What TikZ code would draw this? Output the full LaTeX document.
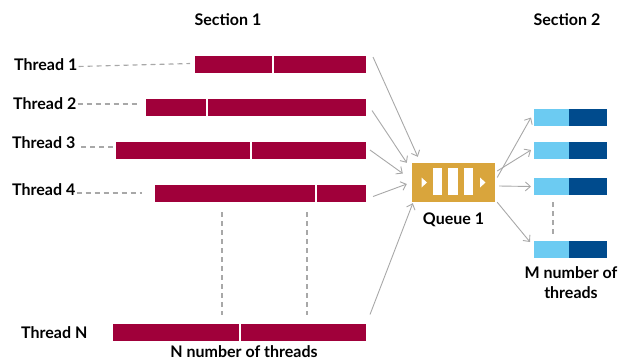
\documentclass[tikz,border=0pt]{standalone}
\usepackage{fontspec}
\setmainfont{Lato}
\usetikzlibrary{arrows.meta}
\definecolor{crimson}{HTML}{A0003A}
\definecolor{lblue}{HTML}{6CCBF2}
\definecolor{dblue}{HTML}{004B8D}
\definecolor{gold}{HTML}{D9A53C}
\definecolor{lgray}{HTML}{A8A8A8}
\tikzset{
  redbar/.style={fill=crimson, draw=none, inner sep=0pt, outer sep=0pt, minimum height=17pt},
  lbar/.style={fill=lblue, draw=none, inner sep=0pt, outer sep=0pt, minimum height=17pt, minimum width=35pt},
  dbar/.style={fill=dblue, draw=none, inner sep=0pt, outer sep=0pt, minimum height=17pt, minimum width=38pt},
  lbl/.style={font=\bfseries\fontsize{16}{18}\selectfont, text=black, inner sep=0pt},
  dashln/.style={draw=lgray, line width=1.1pt, dash pattern=on 5pt off 4pt},
  arr/.style={draw=lgray, line width=0.9pt, -{Straight Barb[length=5pt,width=9pt]}},
  whitebox/.style={fill=white, draw=none, inner sep=0pt, minimum width=9pt, minimum height=27pt},
}
\begin{document}
\begin{tikzpicture}[x=1pt,y=-1pt]
\useasboundingbox (0,0) rectangle (634,360);
% titles
\node[lbl] (s1) at (228,20) {Section 1};
\node[lbl] (s2) at (567,20) {Section 2};
% thread bars
\node[redbar, minimum width=77pt] (b1a) at (233.5,64.5) {};
\node[redbar, minimum width=92pt] (b1b) at (320,64.5) {};
\node[redbar, minimum width=60pt] (b2a) at (176,107.5) {};
\node[redbar, minimum width=158pt] (b2b) at (287,107.5) {};
\node[redbar, minimum width=134pt] (b3a) at (183,150) {};
\node[redbar, minimum width=114pt] (b3b) at (309,150) {};
\node[redbar, minimum width=160pt] (b4a) at (235,193.5) {};
\node[redbar, minimum width=49pt] (b4b) at (341.5,193.5) {};
\node[redbar, minimum width=126pt] (bNa) at (176,332) {};
\node[redbar, minimum width=125pt] (bNb) at (303.5,332) {};
% thread labels
\node[lbl, anchor=west] (t1) at (14,65) {Thread 1};
\node[lbl, anchor=west] (t2) at (13,104) {Thread 2};
\node[lbl, anchor=west] (t3) at (12,143) {Thread 3};
\node[lbl, anchor=west] (t4) at (12,190) {Thread 4};
\node[lbl, anchor=west] (tN) at (21,333) {Thread N};
\node[lbl] (nlab) at (244,352) {N number of threads};
% dashed leaders
\coordinate (d1) at (190,63.5);
\coordinate (d2) at (137,104);
\coordinate (d3a) at (81,147);
\coordinate (d4) at (142,193);
\draw[dashln] ([xshift=1pt,yshift=-1.5pt]t1.east) -- (d1);
\draw[dashln] ([xshift=1pt]t2.east |- d2) -- (d2);
\draw[dashln] (d3a) -- (b3a.west |- d3a);
\draw[dashln] ([xshift=1pt]t4.east |- d4) -- (d4);
% vertical dashes
\coordinate (v1a) at (222,212); \coordinate (v1b) at (222,315);
\coordinate (v2a) at (307,212); \coordinate (v2b) at (307,315);
\draw[dashln] (v1a) -- (v1b);
\draw[dashln] (v2a) -- (v2b);
% queue
\node[fill=gold, draw=none, inner sep=0pt, minimum width=83pt, minimum height=39pt] (q) at (453.5,182.5) {};
\node[whitebox] (w1) at (437,181.5) {};
\node[whitebox, minimum width=10pt] (w2) at (453,181.5) {};
\node[whitebox] (w3) at (468.5,181.5) {};
\fill[white] (421.5,177.5) -- (427,182.5) -- (421.5,187.5) -- cycle;
\fill[white] (480,177.5) -- (485.5,182.5) -- (480,187.5) -- cycle;
\node[lbl] (ql) at (453.5,220) {Queue 1};
% blue bars
\node[lbar] (a1) at (551.5,117.5) {};
\node[dbar] (a2) at (588,117.5) {};
\node[lbar] (c1) at (551.5,150) {};
\node[dbar] (c2) at (588,150) {};
\node[lbar] (e1) at (551.5,186.5) {};
\node[dbar] (e2) at (588,186.5) {};
\node[lbar] (g1) at (551.5,249.5) {};
\node[dbar] (g2) at (588,249.5) {};
\coordinate (bv1) at (553,202); \coordinate (bv2) at (553,234);
\draw[dashln] (bv1) -- (bv2);
\node[lbl, align=center, font=\bfseries\fontsize{16}{20}\selectfont] (ml) at (571,283) {M number of\\threads};
% arrows into queue
\draw[arr] ([shift={(7,1)}]b1b.north east) -- ([shift={(6,-6)}]q.north west);
\draw[arr] ([shift={(6,3)}]b2b.east) -- ([shift={(-5,0)}]q.north west);
\draw[arr] ([shift={(4,0)}]b3b.east) -- ([shift={(-9,-9)}]q.west);
\draw[arr] ([shift={(7,3)}]b4b.east) -- ([shift={(-5,1.5)}]q.west);
\draw[arr] ([shift={(4,-9)}]bNb.north east) -- ([shift={(1,1)}]q.south west);
% arrows out of queue
\draw[arr] ([shift={(2,-5)}]q.east) -- ([shift={(-3,0)}]a1.west);
\draw[arr] ([shift={(2,-11.5)}]q.east) -- ([shift={(-3,0)}]c1.west) ;
\draw[arr] ([shift={(4,3.5)}]q.east) -- ([shift={(-3,0)}]e1.west);
\draw[arr] ([shift={(2,0)}]q.south east) -- ([shift={(-4,-7.5)}]g1.west);
\end{tikzpicture}
\end{document}
